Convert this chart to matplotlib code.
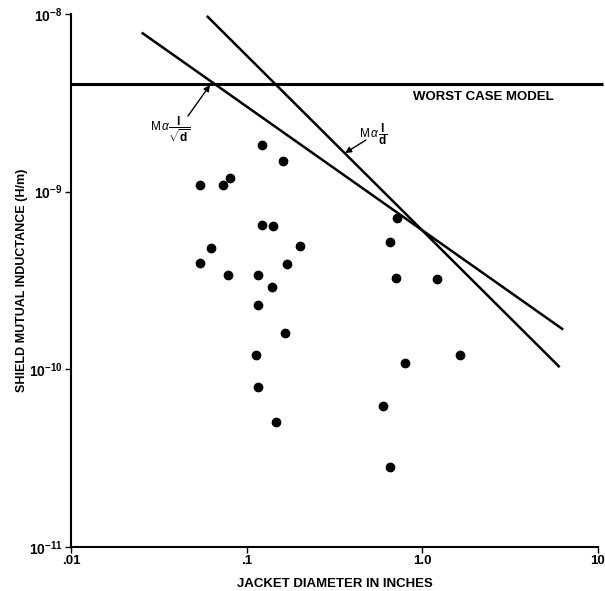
import matplotlib
matplotlib.use("Agg")
import matplotlib.pyplot as plt
from matplotlib.ticker import FixedLocator, FixedFormatter, NullLocator

plt.rcParams['font.family'] = ['Liberation Sans', 'DejaVu Sans']
plt.rcParams['mathtext.fontset'] = 'custom'
plt.rcParams['mathtext.rm'] = 'Liberation Sans'
plt.rcParams['mathtext.it'] = 'Liberation Sans:italic'
plt.rcParams['mathtext.bf'] = 'Liberation Sans:bold'

# measured data points (jacket diameter in inches, mutual inductance H/m)
diameter = [0.123, 0.160, 0.0545, 0.0736, 0.0807, 0.123, 0.1415, 0.0624, 0.200,
            0.0545, 0.169, 0.0783, 0.116, 0.1387, 0.116, 0.165, 0.113, 0.1167,
            0.1476, 0.716, 0.652, 0.710, 1.21, 1.63, 0.796, 0.597, 0.658]
inductance = [1.83e-9, 1.49e-9, 1.09e-9, 1.09e-9, 1.19e-9, 6.46e-10, 6.4e-10,
              4.82e-10, 4.92e-10, 3.98e-10, 3.90e-10, 3.40e-10, 3.40e-10,
              2.92e-10, 2.30e-10, 1.60e-10, 1.21e-10, 7.91e-11, 5.02e-11,
              7.1e-10, 5.19e-10, 3.25e-10, 3.24e-10, 1.20e-10, 1.09e-10,
              6.2e-11, 2.83e-11]

# model lines
sqrt_model_x = [0.0256, 6.25]
sqrt_model_y = [7.78e-9, 1.69e-10]
inv_model_x = [0.060, 5.98]
inv_model_y = [9.64e-9, 1.04e-10]
worst_case_x = [0.01, 10.7]
worst_case_y = [4.03e-9, 4.03e-9]

x_ticks = [0.01, 0.1, 1.0, 10]
x_ticklabels = [".01", ".1", "1.0", "10"]
y_ticks = [1e-11, 1e-10, 1e-9, 1e-8]
y_ticklabels = [r"$\mathbf{10^{-11}}$", r"$\mathbf{10^{-10}}$",
                r"$\mathbf{10^{-9}}$", r"$\mathbf{10^{-8}}$"]

W, H = 605, 591


def fig_frac(x, y):
    return (x / W, 1 - y / H)


fig = plt.figure(figsize=(6.05, 5.91), dpi=100)
ax = fig.add_axes([0.1174, 0.0745, 0.871, 0.9019])
ax.set_xscale('log')
ax.set_yscale('log')
ax.set_xlim(0.01, 10)
ax.set_ylim(1e-11, 1e-8)

ax.plot(worst_case_x, worst_case_y, color='black', lw=2.2, clip_on=False,
        solid_capstyle='butt')
ax.plot(sqrt_model_x, sqrt_model_y, color='black', lw=1.8, clip_on=False)
ax.plot(inv_model_x, inv_model_y, color='black', lw=1.8, clip_on=False)
ax.plot(diameter, inductance, 'o', color='black', ms=6, ls='none')

for s in ['top', 'right']:
    ax.spines[s].set_visible(False)
for s in ['left', 'bottom']:
    ax.spines[s].set_linewidth(1.5)

ax.xaxis.set_major_locator(FixedLocator(x_ticks))
ax.xaxis.set_major_formatter(FixedFormatter(x_ticklabels))
ax.xaxis.set_minor_locator(NullLocator())
ax.yaxis.set_major_locator(FixedLocator(y_ticks))
ax.yaxis.set_major_formatter(FixedFormatter(y_ticklabels))
ax.yaxis.set_minor_locator(NullLocator())
ax.tick_params(axis='both', direction='out', length=4, width=1, pad=2)
for lab in ax.get_xticklabels():
    lab.set_fontsize(9.5)
    lab.set_fontweight('bold')
for lab in ax.get_yticklabels():
    lab.set_fontsize(10)

ax.set_xlabel("JACKET DIAMETER IN INCHES", fontsize=9.5, fontweight='bold', labelpad=8)
ax.set_ylabel("SHIELD MUTUAL INDUCTANCE (H/m)", fontsize=9, fontweight='bold', labelpad=1)

fig.text(*fig_frac(483, 97), "WORST CASE MODEL", fontsize=9.5, fontweight='bold',
         ha='center', va='center')

# annotation texts
fig.text(*fig_frac(170, 129), r"$\mathregular{M}\,\alpha\dfrac{\mathbf{l}}{\sqrt{\mathbf{d}}}$",
         fontsize=8.5, ha='center', va='center')
fig.text(*fig_frac(373, 134), r"$\mathregular{M}\,\alpha\,\dfrac{\mathbf{l}}{\mathbf{d}}$",
         fontsize=8.5, ha='center', va='center')

# arrows
arrow = dict(arrowstyle='-|>', color='black', lw=1, shrinkA=0, shrinkB=0,
             mutation_scale=9)
ax.annotate("", xy=fig_frac(210, 85), xycoords='figure fraction',
            xytext=fig_frac(188, 116), textcoords='figure fraction', arrowprops=arrow)
ax.annotate("", xy=fig_frac(345, 153), xycoords='figure fraction',
            xytext=fig_frac(366, 140), textcoords='figure fraction', arrowprops=arrow)

fig.savefig("out.png", dpi=100)
